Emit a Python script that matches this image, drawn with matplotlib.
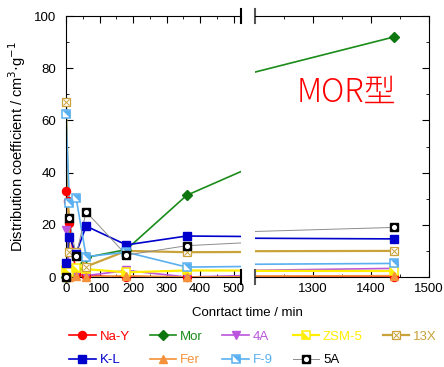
import matplotlib
matplotlib.use('Agg')
import matplotlib.pyplot as plt
from matplotlib.lines import Line2D
from matplotlib.ticker import MultipleLocator, FixedLocator

plt.rcParams['font.family'] = ['Liberation Sans', 'DejaVu Sans']
plt.rcParams['font.size'] = 9.5

# contact time (min)
t = [0, 10, 30, 60, 180, 360, 1440]
t_nay = [0, 5, 10, 30, 60, 180, 360, 1440]

# distribution coefficient (cm3/g)
na_y = [33, 29, 20.5, 1, 0.5, 0, 0, 0]
mor = [0, 1, 3, 7.5, 10.5, 31.3, 92]
a4 = [18, 3, 1, 0.5, 2.5, 0, 3.3]
zsm5 = [2.5, 2, 3.5, 3, 1.8, 2.5, 2.3]
x13 = [67, 9.7, 9.5, 4, 10, 9.5, 10]
kl = [5.5, 15.5, 9, 19.5, 12.3, 15.7, 14.6]
fer = [0, 0, 0.5, 0, 0.5, 0, 0.5]
f9 = [62.5, 28.5, 30.4, 7.8, 9.5, 3.8, 5.2]
a5 = [0, 22.5, 8, 25, 8.4, 12, 19]

tri_ll = [(-1, 1), (-1, -1), (1, -1)]
tri_ur = [(-1, 1), (1, 1), (1, -1)]

c_ny, c_mor, c_4a, c_zsm = 'red', '#1a8c1a', '#bb55dd', '#ffee00'
c_13x, c_kl, c_fer, c_f9 = '#c9a23a', '#0000cc', '#f5913a', '#5ab0f0'

# name, x, y, line colour, line width, marker layers, text colour
series = [
    ('Na-Y', t_nay, na_y, c_ny, 1.2,
     [dict(marker='o', ms=5.8, mfc=c_ny, mec=c_ny)], c_ny),
    ('Mor', t, mor, c_mor, 1.2,
     [dict(marker='D', ms=5, mfc='#0e760e', mec='#0e760e')], c_mor),
    ('4A', t, a4, c_4a, 1.2,
     [dict(marker='v', ms=6, mfc=c_4a, mec=c_4a)], c_4a),
    ('ZSM-5', t, zsm5, c_zsm, 1.6,
     [dict(marker='s', ms=5.3, mfc='white', mec=c_zsm, mew=1.1),
      dict(marker=tri_ll, ms=5.3, mfc=c_zsm, mec='none')], c_zsm),
    ('13X', t, x13, c_13x, 1.6,
     [dict(marker='s', ms=5.3, mfc='white', mec=c_13x, mew=0.9),
      dict(marker='x', ms=4.5, mec=c_13x, mew=0.7)], c_13x),
    ('K-L', t, kl, c_kl, 1.2,
     [dict(marker='s', ms=5.3, mfc=c_kl, mec=c_kl)], c_kl),
    ('Fer', t, fer, c_fer, 1.2,
     [dict(marker='^', ms=6, mfc=c_fer, mec=c_fer)], c_fer),
    ('F-9', t, f9, c_f9, 1.2,
     [dict(marker='s', ms=5.3, mfc='white', mec=c_f9, mew=1.1),
      dict(marker=tri_ur, ms=5.3, mfc=c_f9, mec='none')], c_f9),
    ('5A', t, a5, '#8c8c8c', 0.7,
     [dict(marker='s', ms=5.5, mfc='black', mec='black'),
      dict(marker='o', ms=3.7, mfc='white', mec='none')], 'black'),
]

fig = plt.figure(figsize=(4.44, 3.67), dpi=100)
ax1 = fig.add_axes([66 / 444, 1 - 277 / 367, 175 / 444, 261 / 367])
ax2 = fig.add_axes([255 / 444, 1 - 277 / 367, 174 / 444, 261 / 367])


def draw(ax, lo, hi):
    for name, x, y, lc, lw, layers, tc in series:
        ax.plot(x, y, color=lc, lw=lw)
        xs = [a for a in x if lo <= a <= hi]
        ys = [b for a, b in zip(x, y) if lo <= a <= hi]
        for m in layers:
            ax.plot(xs, ys, ls='none', clip_on=False, zorder=3, **m)
    ax.set_xlim(lo, hi)
    ax.set_ylim(0, 100)


draw(ax1, 0, 522)
draw(ax2, 1200, 1500)

ax1.spines['right'].set_visible(False)
ax2.spines['left'].set_visible(False)

ax1.xaxis.set_major_locator(FixedLocator([0, 100, 200, 300, 400, 500]))
ax1.xaxis.set_minor_locator(FixedLocator([50, 150, 250, 350, 450]))
ax2.xaxis.set_major_locator(FixedLocator([1300, 1400, 1500]))
ax2.xaxis.set_minor_locator(FixedLocator([1250, 1350, 1450]))
for ax in (ax1, ax2):
    ax.yaxis.set_major_locator(MultipleLocator(20))
    ax.yaxis.set_minor_locator(MultipleLocator(10))
    ax.tick_params(which='both', direction='in', top=True, labelsize=9.5)
    ax.tick_params(which='major', length=5, pad=4)
    ax.tick_params(which='minor', length=2.5)
ax1.tick_params(axis='y', which='both', right=False, pad=7)
ax2.tick_params(axis='y', which='both', left=False, right=True, labelleft=False)

# axis break marks
for yy in (0, 1):
    ax1.plot([1, 1], [yy - 0.028, yy + 0.028], transform=ax1.transAxes,
             color='black', lw=1.5, clip_on=False)
    ax2.plot([0, 0], [yy - 0.028, yy + 0.028], transform=ax2.transAxes,
             color='#555555', lw=1.5, clip_on=False)

ax1.set_ylabel('Distribution coefficient / cm$^{3}$$\\cdot$g$^{-1}$', fontsize=10.5, labelpad=4)
fig.text(247.5 / 444, 1 - 313 / 367, 'Conrtact time / min', ha='center', va='center', fontsize=9.5)

ax2.text(1357, 70.5, 'MOR型', ha='center', va='center', color='red', fontsize=23,
         fontweight='light', family=['Noto Sans CJK JP', 'DejaVu Sans'])

# legend (column-major order so rows read Na-Y..13X / K-L..5A)
order = [0, 5, 1, 6, 2, 7, 3, 8, 4]
handles, labels, tcolors = [], [], []
for i in order:
    name, x, y, lc, lw, layers, tc = series[i]
    hs = [Line2D([], [], color=lc, lw=lw, **layers[0])]
    for m in layers[1:]:
        hs.append(Line2D([], [], ls='none', **m))
    handles.append(tuple(hs))
    labels.append(name)
    tcolors.append(tc)
leg = fig.legend(handles, labels, ncol=5, loc='upper center',
                 bbox_to_anchor=(253 / 444, 1 - 324 / 367), frameon=False,
                 fontsize=9.5, handlelength=2.0, handletextpad=0.3,
                 columnspacing=1.5, labelspacing=0.85, borderpad=0)
for txt, c in zip(leg.get_texts(), tcolors):
    txt.set_color(c)

fig.savefig('out.png', dpi=100)
